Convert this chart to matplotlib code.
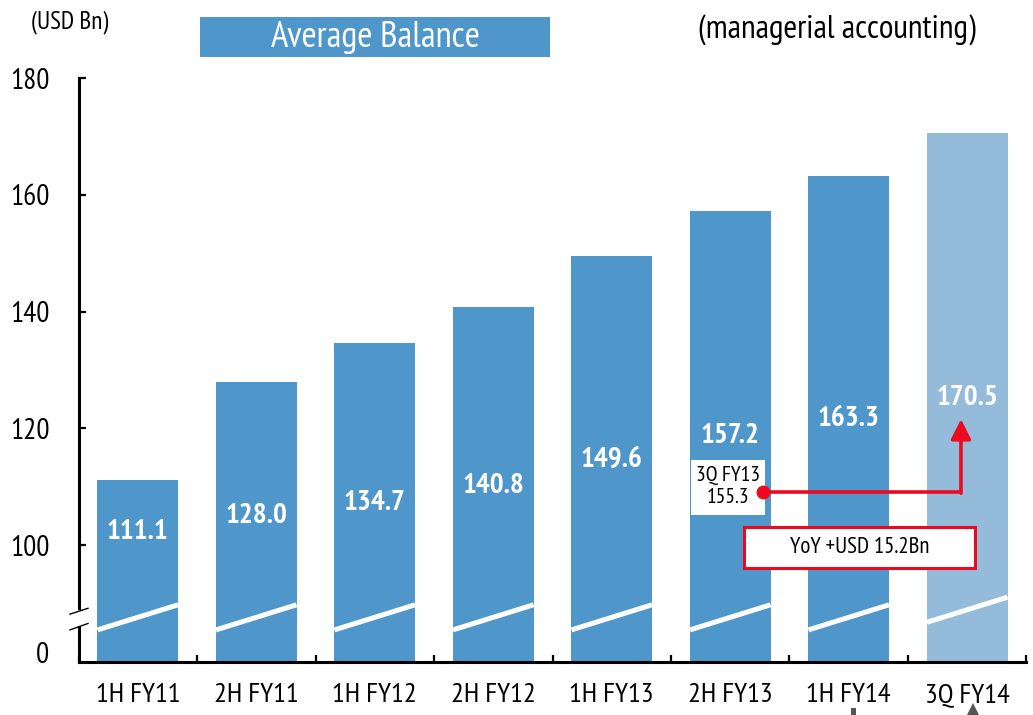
import numpy as np
import matplotlib
matplotlib.use("Agg")
import matplotlib.pyplot as plt
from matplotlib.patches import Rectangle, Polygon
from matplotlib.transforms import blended_transform_factory

plt.rcParams['font.family'] = ['PT Sans Narrow', 'Roboto Condensed', 'DejaVu Sans']

# data
periods = ['1H FY11', '2H FY11', '1H FY12', '2H FY12', '1H FY13', '2H FY13', '1H FY14', '3Q FY14']
balance = [111.1, 128.0, 134.7, 140.8, 149.6, 157.2, 163.3, 170.5]
is_latest = [False, False, False, False, False, False, False, True]
ref_label = '3Q FY13\n155.3'
yoy_label = 'YoY +USD 15.2Bn'

# layout (data units, axis broken below 100 -> bottom shown as "0")
y_floor = 80
label_y = [102.3, 105.0, 107.2, 110.1, 114.6, 118.7, 121.6, 125.2]
dark = '#4F96CA'
light = '#94BCDA'
red = '#EE0A1E'

fig = plt.figure(figsize=(10.33, 7.15), dpi=100)
ax = fig.add_axes([0.076, 0.0741, 0.9177, 0.8168])

x = np.arange(len(periods))
w = 0.68
colors = [light if f else dark for f in is_latest]
ax.bar(x, np.array(balance) - y_floor, bottom=y_floor, width=w, color=colors, zorder=2)

# white break stripes across bars
for xi, f in zip(x, is_latest):
    lo = 86.8 if f else 85.5
    ax.plot([xi - w / 2, xi + w / 2], [lo, lo + 4.3], color='white', lw=3.6,
            solid_capstyle='butt', zorder=3)

for xi, v, ly in zip(x, balance, label_y):
    ax.text(xi, ly, f'{v:.1f}', ha='center', va='center', color='white',
            fontsize=21, fontweight='bold', zorder=4)

ax.set_xlim(-0.5, len(periods) - 0.5)
ax.set_ylim(y_floor, 180)

# spines / axis break
for s in ['top', 'right', 'left']:
    ax.spines[s].set_visible(False)
ax.spines['bottom'].set_linewidth(2.2)
ax.plot([-0.5, -0.5], [y_floor, 86.0], color='black', lw=2.2, clip_on=False, zorder=5)
ax.plot([-0.5, -0.5], [89.2, 180], color='black', lw=2.2, clip_on=False, zorder=5)
tr = blended_transform_factory(ax.transAxes, ax.transData)
ax.plot([-0.009, 0.010], [88.2, 89.2], color='black', lw=1.0, transform=tr, clip_on=False)
ax.plot([-0.009, 0.010], [85.5, 86.6], color='black', lw=1.0, transform=tr, clip_on=False)

ax.set_yticks([100, 120, 140, 160, 180])
ax.tick_params(axis='y', direction='in', length=5, width=1.6, pad=21, labelsize=21)
ax.text(-0.031, 81.2, '0', ha='right', va='center', fontsize=21, transform=tr)

ax.set_xticks(x)
ax.set_xticklabels(periods)
ax.set_xticks(np.arange(-0.5, len(periods)), minor=True)
ax.tick_params(axis='x', which='major', length=0, pad=15, labelsize=20.5)
ax.tick_params(axis='x', which='minor', direction='in', length=5, width=1.6)

# reference point and arrow
ax.add_patch(Rectangle((4.669, 105.2), 0.624, 9.4, facecolor='white', edgecolor='none', zorder=5))
ax.text(4.98, 110.0, ref_label, ha='center', va='center', fontsize=15.5,
        linespacing=1.2, zorder=6)
ax.plot([5.276, 6.947], [109.1, 109.1], color=red, lw=2.6, zorder=6, solid_capstyle='butt')
ax.annotate('', xy=(6.947, 121.6), xytext=(6.947, 108.9),
            arrowprops=dict(arrowstyle='-|>,head_length=0.6,head_width=0.3', color=red,
                            lw=2.6, mutation_scale=20, shrinkA=0, shrinkB=0), zorder=6)
ax.plot([5.276], [109.1], 'o', color=red, ms=9, zorder=7)

ax.add_patch(Rectangle((5.117, 96.1), 1.949, 7.0, facecolor='white', edgecolor=red,
                       lw=2.2, zorder=6))
ax.text(6.09, 99.6, yoy_label, ha='center', va='center', fontsize=16.5, zorder=7)

# header
fig.patches.append(Rectangle((200 / 1033, 1 - 57 / 715), 350 / 1033, 40 / 715,
                             transform=fig.transFigure, facecolor=dark, edgecolor='none'))
fig.text(375 / 1033, 1 - 38 / 715, 'Average Balance', ha='center', va='center',
         color='white', fontsize=26.5)
fig.text(70 / 1033, 1 - 22 / 715, '(USD Bn)', ha='center', va='center', fontsize=18)
fig.text(837 / 1033, 1 - 30 / 715, '(managerial accounting)', ha='center', va='center',
         fontsize=24)

# small marks cut off at the bottom edge
fig.patches.append(Rectangle((851 / 1033, 0), 5 / 1033, 7 / 715,
                             transform=fig.transFigure, facecolor='#555555', edgecolor='none'))
fig.patches.append(Polygon([(967 / 1033, 0), (979 / 1033, 0), (973 / 1033, 12 / 715)],
                           closed=True, transform=fig.transFigure,
                           facecolor='#555555', edgecolor='none'))

fig.savefig('out.png', dpi=100)
